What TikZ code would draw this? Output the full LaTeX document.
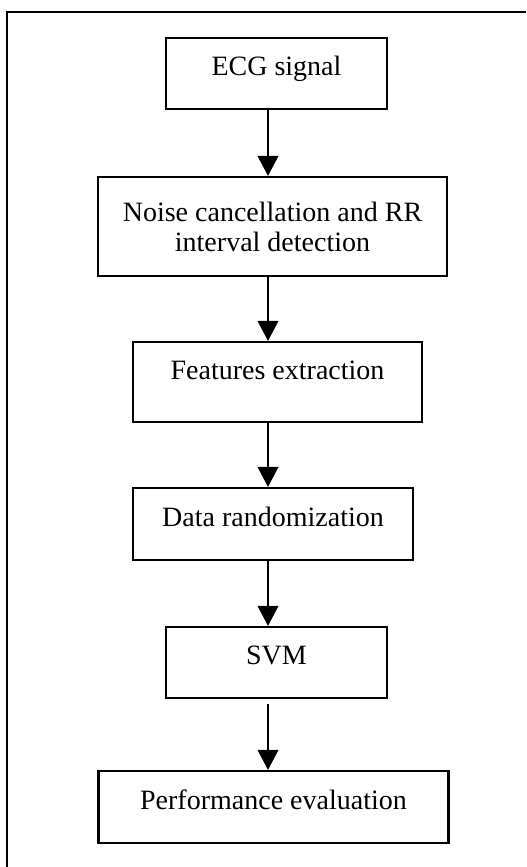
\documentclass[tikz,border=0pt]{standalone}
\usepackage{fontspec}
\setmainfont{Liberation Serif}
\usetikzlibrary{arrows.meta}

\begin{document}
\begin{tikzpicture}[x=0.5pt,y=-0.5pt,
    font=\fontsize{14}{15}\selectfont,
    blk/.style={draw,line width=1.1pt,inner sep=0pt,align=center},
    txt/.style={text height=11.5pt,text depth=9.5pt},
    arr/.style={line width=1pt,-{Triangle[width=10.3pt,length=10pt]}}]
    \useasboundingbox (0,0) rectangle (526,867);
    % outer frame, cut at right and bottom
    \draw[line width=1pt] (7,867) |- (526,12);
    \node[blk,txt,minimum width=110.5pt,minimum height=35.5pt] (ecg) at (276.5,73.5) {ECG signal};
    \node[blk,minimum width=174.5pt,minimum height=49.5pt] (noise) at (272.5,226.5) {Noise cancellation and RR\\interval detection};
    \node[blk,txt,text depth=14.5pt,minimum width=144.5pt,minimum height=40pt] (feat) at (277.5,382) {Features extraction};
    \node[blk,txt,minimum width=140pt,minimum height=36pt] (rand) at (273,524) {Data randomization};
    \node[blk,txt,minimum width=110.5pt,minimum height=35.5pt] (svm) at (276.5,662.5) {SVM};
    \node[blk,txt,minimum width=175pt,minimum height=36pt] (perf) at (273.5,807) {Performance evaluation};
    \coordinate (ax) at (268,0);
    \draw[arr] (ecg.south -| ax) -- (noise.north -| ax);
    \draw[arr] (noise.south -| ax) -- (feat.north -| ax);
    \draw[arr] (feat.south -| ax) -- (rand.north -| ax);
    \draw[arr] (rand.south -| ax) -- (svm.north -| ax);
    \draw[arr] ([yshift=-2.5pt]svm.south -| ax) -- (perf.north -| ax);
\end{tikzpicture}
\end{document}
